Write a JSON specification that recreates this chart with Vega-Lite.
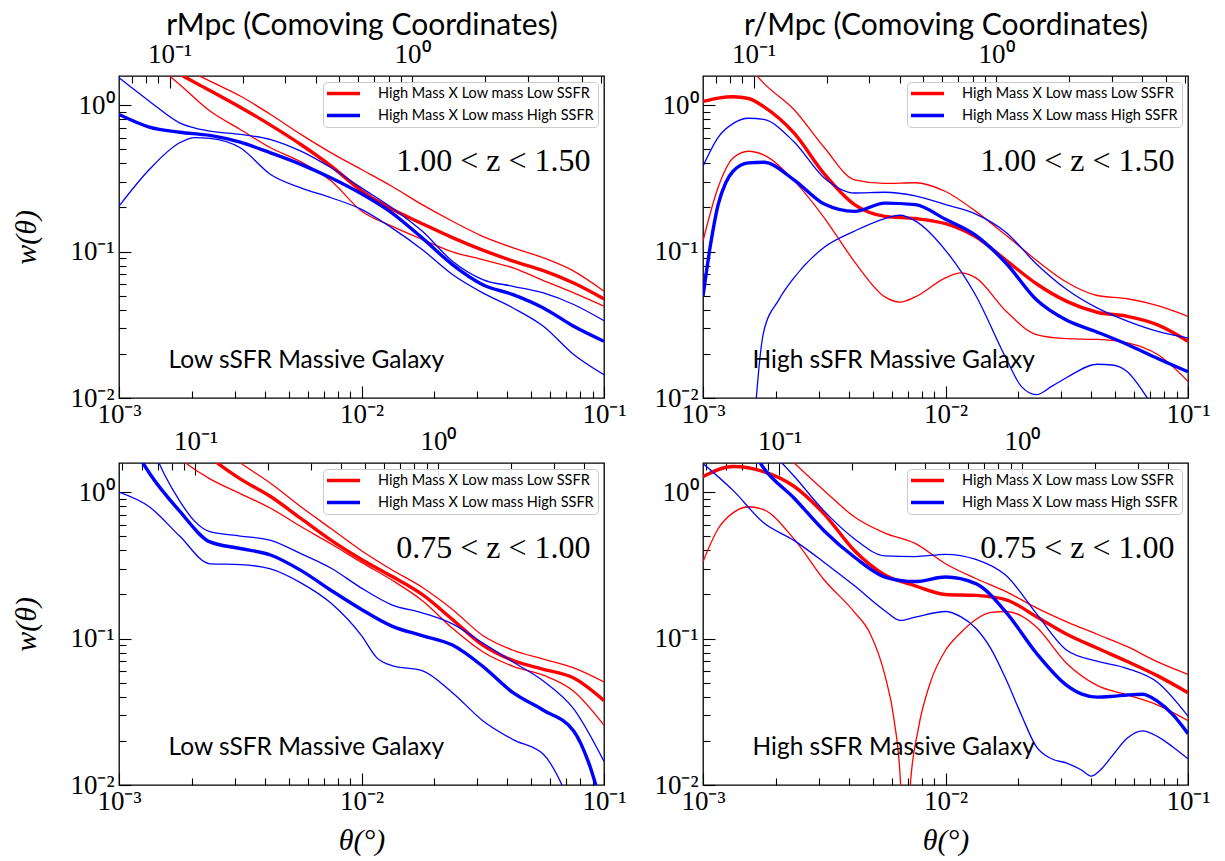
{
  "$schema": "https://vega.github.io/schema/vega-lite/v6.json",
  "background": "white",
  "padding": {"left": 11, "top": 9, "right": 0, "bottom": 0},
  "columns": 2,
  "spacing": {"row": 65, "column": 99},
  "bounds": "flush",
  "resolve": {"scale": {"color": "independent"}, "legend": {"color": "independent"}},
  "config": {
    "view": {"stroke": "#000000", "strokeWidth": 1.3},
    "axis": {"domain": false, "grid": false, "tickColor": "#000000", "tickWidth": 1.1, "labelFont": "Liberation Serif", "labelFontSize": 27, "labelColor": "#000000", "titleColor": "#000000", "titleFontWeight": "normal", "labelFlush": false, "labelOverlap": false, "labelBound": false}
  },
  "datasets": {
    "tl": [
      {"s":"R","b":"m","t":0.0013335,"w":2.188},{"s":"R","b":"m","t":0.0017783,"w":1.629},{"s":"R","b":"m","t":0.0023714,"w":1.259},{"s":"R","b":"m","t":0.0031623,"w":0.968},{"s":"R","b":"m","t":0.004217,"w":0.730},{"s":"R","b":"m","t":0.0056234,"w":0.538},{"s":"R","b":"m","t":0.0074989,"w":0.383},{"s":"R","b":"m","t":0.01,"w":0.260},{"s":"R","b":"m","t":0.013335,"w":0.195},{"s":"R","b":"m","t":0.017783,"w":0.155},{"s":"R","b":"m","t":0.023714,"w":0.1245},{"s":"R","b":"m","t":0.031623,"w":0.1023},{"s":"R","b":"m","t":0.04217,"w":0.0861},{"s":"R","b":"m","t":0.056234,"w":0.0741},{"s":"R","b":"m","t":0.074989,"w":0.0610},{"s":"R","b":"m","t":0.1,"w":0.0475},
      {"s":"R","b":"u","t":0.0013335,"w":2.630},{"s":"R","b":"u","t":0.0017783,"w":1.862},{"s":"R","b":"u","t":0.0023714,"w":1.459},{"s":"R","b":"u","t":0.0031623,"w":1.153},{"s":"R","b":"u","t":0.004217,"w":0.863},{"s":"R","b":"u","t":0.0056234,"w":0.631},{"s":"R","b":"u","t":0.0074989,"w":0.472},{"s":"R","b":"u","t":0.01,"w":0.363},{"s":"R","b":"u","t":0.013335,"w":0.279},{"s":"R","b":"u","t":0.017783,"w":0.209},{"s":"R","b":"u","t":0.023714,"w":0.161},{"s":"R","b":"u","t":0.031623,"w":0.127},{"s":"R","b":"u","t":0.04217,"w":0.106},{"s":"R","b":"u","t":0.056234,"w":0.0906},{"s":"R","b":"u","t":0.074989,"w":0.0735},{"s":"R","b":"u","t":0.1,"w":0.0536},
      {"s":"R","b":"l","t":0.0013335,"w":2.04},{"s":"R","b":"l","t":0.0017783,"w":1.384},{"s":"R","b":"l","t":0.0023714,"w":0.910},{"s":"R","b":"l","t":0.0031623,"w":0.682},{"s":"R","b":"l","t":0.004217,"w":0.511},{"s":"R","b":"l","t":0.0056234,"w":0.410},{"s":"R","b":"l","t":0.0074989,"w":0.303},{"s":"R","b":"l","t":0.01,"w":0.189},{"s":"R","b":"l","t":0.013335,"w":0.149},{"s":"R","b":"l","t":0.017783,"w":0.121},{"s":"R","b":"l","t":0.023714,"w":0.0995},{"s":"R","b":"l","t":0.031623,"w":0.0881},{"s":"R","b":"l","t":0.04217,"w":0.0773},{"s":"R","b":"l","t":0.056234,"w":0.0634},{"s":"R","b":"l","t":0.074989,"w":0.0522},{"s":"R","b":"l","t":0.1,"w":0.0423},
      {"s":"B","b":"m","t":0.001,"w":0.863},{"s":"B","b":"m","t":0.0013335,"w":0.708},{"s":"B","b":"m","t":0.0017783,"w":0.653},{"s":"B","b":"m","t":0.0023714,"w":0.621},{"s":"B","b":"m","t":0.0031623,"w":0.558},{"s":"B","b":"m","t":0.004217,"w":0.472},{"s":"B","b":"m","t":0.0056234,"w":0.394},{"s":"B","b":"m","t":0.0074989,"w":0.318},{"s":"B","b":"m","t":0.01,"w":0.248},{"s":"B","b":"m","t":0.013335,"w":0.184},{"s":"B","b":"m","t":0.017783,"w":0.124},{"s":"B","b":"m","t":0.023714,"w":0.0815},{"s":"B","b":"m","t":0.031623,"w":0.0594},{"s":"B","b":"m","t":0.04217,"w":0.0508},{"s":"B","b":"m","t":0.056234,"w":0.0412},{"s":"B","b":"m","t":0.074989,"w":0.0309},{"s":"B","b":"m","t":0.1,"w":0.0244},
      {"s":"B","b":"u","t":0.001,"w":1.538},{"s":"B","b":"u","t":0.0013335,"w":1.064},{"s":"B","b":"u","t":0.0017783,"w":0.757},{"s":"B","b":"u","t":0.0023714,"w":0.664},{"s":"B","b":"u","t":0.0031623,"w":0.631},{"s":"B","b":"u","t":0.004217,"w":0.582},{"s":"B","b":"u","t":0.0056234,"w":0.485},{"s":"B","b":"u","t":0.0074989,"w":0.373},{"s":"B","b":"u","t":0.01,"w":0.272},{"s":"B","b":"u","t":0.013335,"w":0.199},{"s":"B","b":"u","t":0.017783,"w":0.138},{"s":"B","b":"u","t":0.023714,"w":0.0859},{"s":"B","b":"u","t":0.031623,"w":0.0644},{"s":"B","b":"u","t":0.04217,"w":0.0579},{"s":"B","b":"u","t":0.056234,"w":0.0522},{"s":"B","b":"u","t":0.074989,"w":0.0435},{"s":"B","b":"u","t":0.1,"w":0.0337},
      {"s":"B","b":"l","t":0.001,"w":0.204},{"s":"B","b":"l","t":0.0013335,"w":0.363},{"s":"B","b":"l","t":0.0017783,"w":0.553},{"s":"B","b":"l","t":0.0020535,"w":0.600},{"s":"B","b":"l","t":0.0023714,"w":0.592},{"s":"B","b":"l","t":0.0031623,"w":0.511},{"s":"B","b":"l","t":0.004217,"w":0.336},{"s":"B","b":"l","t":0.0056234,"w":0.272},{"s":"B","b":"l","t":0.0074989,"w":0.233},{"s":"B","b":"l","t":0.01,"w":0.194},{"s":"B","b":"l","t":0.013335,"w":0.145},{"s":"B","b":"l","t":0.017783,"w":0.1033},{"s":"B","b":"l","t":0.023714,"w":0.0697},{"s":"B","b":"l","t":0.031623,"w":0.0522},{"s":"B","b":"l","t":0.04217,"w":0.0412},{"s":"B","b":"l","t":0.056234,"w":0.0309},{"s":"B","b":"l","t":0.074989,"w":0.0198},{"s":"B","b":"l","t":0.1,"w":0.0144}
    ],
    "tr": [
      {"s":"R","b":"m","t":0.001,"w":1.059},{"s":"R","b":"m","t":0.0011548,"w":1.117},{"s":"R","b":"m","t":0.0013335,"w":1.140},{"s":"R","b":"m","t":0.00154,"w":1.109},{"s":"R","b":"m","t":0.0017783,"w":0.977},{"s":"R","b":"m","t":0.0023714,"w":0.646},{"s":"R","b":"m","t":0.0031623,"w":0.339},{"s":"R","b":"m","t":0.004217,"w":0.209},{"s":"R","b":"m","t":0.0056234,"w":0.174},{"s":"R","b":"m","t":0.0074989,"w":0.168},{"s":"R","b":"m","t":0.01,"w":0.155},{"s":"R","b":"m","t":0.013335,"w":0.126},{"s":"R","b":"m","t":0.017783,"w":0.0871},{"s":"R","b":"m","t":0.023714,"w":0.0603},{"s":"R","b":"m","t":0.031623,"w":0.0457},{"s":"R","b":"m","t":0.04217,"w":0.0385},{"s":"R","b":"m","t":0.056234,"w":0.0361},{"s":"R","b":"m","t":0.074989,"w":0.0316},{"s":"R","b":"m","t":0.1,"w":0.0244},
      {"s":"R","b":"u","t":0.0013335,"w":2.512},{"s":"R","b":"u","t":0.0017783,"w":1.413},{"s":"R","b":"u","t":0.0023714,"w":0.933},{"s":"R","b":"u","t":0.0031623,"w":0.513},{"s":"R","b":"u","t":0.004217,"w":0.309},{"s":"R","b":"u","t":0.0056234,"w":0.292},{"s":"R","b":"u","t":0.0074989,"w":0.295},{"s":"R","b":"u","t":0.01,"w":0.257},{"s":"R","b":"u","t":0.013335,"w":0.188},{"s":"R","b":"u","t":0.017783,"w":0.129},{"s":"R","b":"u","t":0.023714,"w":0.0871},{"s":"R","b":"u","t":0.031623,"w":0.0617},{"s":"R","b":"u","t":0.04217,"w":0.0501},{"s":"R","b":"u","t":0.056234,"w":0.0476},{"s":"R","b":"u","t":0.074989,"w":0.0427},{"s":"R","b":"u","t":0.1,"w":0.0361},
      {"s":"R","b":"l","t":0.001,"w":0.118},{"s":"R","b":"l","t":0.0011548,"w":0.275},{"s":"R","b":"l","t":0.0013335,"w":0.437},{"s":"R","b":"l","t":0.00154,"w":0.484},{"s":"R","b":"l","t":0.0017783,"w":0.457},{"s":"R","b":"l","t":0.0023714,"w":0.305},{"s":"R","b":"l","t":0.0031623,"w":0.170},{"s":"R","b":"l","t":0.004217,"w":0.0851},{"s":"R","b":"l","t":0.0056234,"w":0.0490},{"s":"R","b":"l","t":0.0064938,"w":0.0452},{"s":"R","b":"l","t":0.0074989,"w":0.0490},{"s":"R","b":"l","t":0.01,"w":0.0661},{"s":"R","b":"l","t":0.011548,"w":0.0714},{"s":"R","b":"l","t":0.013335,"w":0.0661},{"s":"R","b":"l","t":0.017783,"w":0.0391},{"s":"R","b":"l","t":0.023714,"w":0.0271},{"s":"R","b":"l","t":0.031623,"w":0.0254},{"s":"R","b":"l","t":0.04217,"w":0.0251},{"s":"R","b":"l","t":0.056234,"w":0.0238},{"s":"R","b":"l","t":0.074989,"w":0.0198},{"s":"R","b":"l","t":0.1,"w":0.0130},
      {"s":"B","b":"m","t":0.001,"w":0.0495},{"s":"B","b":"m","t":0.0010746,"w":0.112},{"s":"B","b":"m","t":0.0011548,"w":0.209},{"s":"B","b":"m","t":0.001241,"w":0.295},{"s":"B","b":"m","t":0.0013335,"w":0.355},{"s":"B","b":"m","t":0.00154,"w":0.403},{"s":"B","b":"m","t":0.0017783,"w":0.407},{"s":"B","b":"m","t":0.0023714,"w":0.309},{"s":"B","b":"m","t":0.0031623,"w":0.211},{"s":"B","b":"m","t":0.004217,"w":0.188},{"s":"B","b":"m","t":0.0056234,"w":0.214},{"s":"B","b":"m","t":0.0074989,"w":0.209},{"s":"B","b":"m","t":0.01,"w":0.166},{"s":"B","b":"m","t":0.013335,"w":0.129},{"s":"B","b":"m","t":0.017783,"w":0.0832},{"s":"B","b":"m","t":0.023714,"w":0.0468},{"s":"B","b":"m","t":0.031623,"w":0.0339},{"s":"B","b":"m","t":0.04217,"w":0.0282},{"s":"B","b":"m","t":0.056234,"w":0.0232},{"s":"B","b":"m","t":0.074989,"w":0.0186},{"s":"B","b":"m","t":0.1,"w":0.0151},
      {"s":"B","b":"u","t":0.001,"w":0.383},{"s":"B","b":"u","t":0.0011548,"w":0.603},{"s":"B","b":"u","t":0.0013335,"w":0.750},{"s":"B","b":"u","t":0.00154,"w":0.813},{"s":"B","b":"u","t":0.0017783,"w":0.798},{"s":"B","b":"u","t":0.0023714,"w":0.562},{"s":"B","b":"u","t":0.0031623,"w":0.318},{"s":"B","b":"u","t":0.004217,"w":0.251},{"s":"B","b":"u","t":0.0056234,"w":0.254},{"s":"B","b":"u","t":0.0074989,"w":0.240},{"s":"B","b":"u","t":0.01,"w":0.209},{"s":"B","b":"u","t":0.013335,"w":0.180},{"s":"B","b":"u","t":0.017783,"w":0.135},{"s":"B","b":"u","t":0.023714,"w":0.0822},{"s":"B","b":"u","t":0.031623,"w":0.0550},{"s":"B","b":"u","t":0.04217,"w":0.0412},{"s":"B","b":"u","t":0.056234,"w":0.0335},{"s":"B","b":"u","t":0.074989,"w":0.0285},{"s":"B","b":"u","t":0.1,"w":0.0257},
      {"s":"B","b":"l","t":0.0015849,"w":0.00316},{"s":"B","b":"l","t":0.0016596,"w":0.01},{"s":"B","b":"l","t":0.0017783,"w":0.0282},{"s":"B","b":"l","t":0.0020535,"w":0.0468},{"s":"B","b":"l","t":0.0023714,"w":0.0661},{"s":"B","b":"l","t":0.0031623,"w":0.107},{"s":"B","b":"l","t":0.004217,"w":0.138},{"s":"B","b":"l","t":0.0056234,"w":0.168},{"s":"B","b":"l","t":0.0064938,"w":0.177},{"s":"B","b":"l","t":0.0074989,"w":0.162},{"s":"B","b":"l","t":0.01,"w":0.102},{"s":"B","b":"l","t":0.013335,"w":0.0501},{"s":"B","b":"l","t":0.017783,"w":0.0186},{"s":"B","b":"l","t":0.020535,"w":0.0120},{"s":"B","b":"l","t":0.023714,"w":0.01054},{"s":"B","b":"l","t":0.027384,"w":0.0120},{"s":"B","b":"l","t":0.031623,"w":0.0138},{"s":"B","b":"l","t":0.04217,"w":0.0170},{"s":"B","b":"l","t":0.048697,"w":0.0168},{"s":"B","b":"l","t":0.056234,"w":0.0151},{"s":"B","b":"l","t":0.064938,"w":0.0112},{"s":"B","b":"l","t":0.074989,"w":0.00759},{"s":"B","b":"l","t":0.086596,"w":0.00447}
    ],
    "bl": [
      {"s":"R","b":"m","t":0.0017783,"w":2.818},{"s":"R","b":"m","t":0.0023714,"w":1.738},{"s":"R","b":"m","t":0.0031623,"w":1.230},{"s":"R","b":"m","t":0.004217,"w":0.933},{"s":"R","b":"m","t":0.0056234,"w":0.661},{"s":"R","b":"m","t":0.0074989,"w":0.468},{"s":"R","b":"m","t":0.01,"w":0.347},{"s":"R","b":"m","t":0.013335,"w":0.266},{"s":"R","b":"m","t":0.017783,"w":0.200},{"s":"R","b":"m","t":0.023714,"w":0.135},{"s":"R","b":"m","t":0.031623,"w":0.0902},{"s":"R","b":"m","t":0.04217,"w":0.0708},{"s":"R","b":"m","t":0.056234,"w":0.0617},{"s":"R","b":"m","t":0.074989,"w":0.0537},{"s":"R","b":"m","t":0.1,"w":0.0377},
      {"s":"R","b":"u","t":0.0023714,"w":2.291},{"s":"R","b":"u","t":0.0031623,"w":1.585},{"s":"R","b":"u","t":0.004217,"w":1.148},{"s":"R","b":"u","t":0.0056234,"w":0.794},{"s":"R","b":"u","t":0.0074989,"w":0.562},{"s":"R","b":"u","t":0.01,"w":0.398},{"s":"R","b":"u","t":0.013335,"w":0.295},{"s":"R","b":"u","t":0.017783,"w":0.224},{"s":"R","b":"u","t":0.023714,"w":0.158},{"s":"R","b":"u","t":0.031623,"w":0.105},{"s":"R","b":"u","t":0.04217,"w":0.0832},{"s":"R","b":"u","t":0.056234,"w":0.0724},{"s":"R","b":"u","t":0.074989,"w":0.0631},{"s":"R","b":"u","t":0.1,"w":0.0506},
      {"s":"R","b":"l","t":0.0013335,"w":2.630},{"s":"R","b":"l","t":0.0017783,"w":1.698},{"s":"R","b":"l","t":0.0023714,"w":1.230},{"s":"R","b":"l","t":0.0031623,"w":0.977},{"s":"R","b":"l","t":0.004217,"w":0.776},{"s":"R","b":"l","t":0.0056234,"w":0.582},{"s":"R","b":"l","t":0.0074989,"w":0.442},{"s":"R","b":"l","t":0.01,"w":0.331},{"s":"R","b":"l","t":0.013335,"w":0.251},{"s":"R","b":"l","t":0.017783,"w":0.182},{"s":"R","b":"l","t":0.023714,"w":0.1175},{"s":"R","b":"l","t":0.031623,"w":0.0813},{"s":"R","b":"l","t":0.04217,"w":0.0646},{"s":"R","b":"l","t":0.056234,"w":0.0562},{"s":"R","b":"l","t":0.074989,"w":0.0437},{"s":"R","b":"l","t":0.1,"w":0.0256},
      {"s":"B","b":"m","t":0.0011548,"w":1.995},{"s":"B","b":"m","t":0.0013335,"w":1.349},{"s":"B","b":"m","t":0.0017783,"w":0.741},{"s":"B","b":"m","t":0.0023714,"w":0.457},{"s":"B","b":"m","t":0.0031623,"w":0.412},{"s":"B","b":"m","t":0.004217,"w":0.372},{"s":"B","b":"m","t":0.0056234,"w":0.292},{"s":"B","b":"m","t":0.0074989,"w":0.213},{"s":"B","b":"m","t":0.01,"w":0.158},{"s":"B","b":"m","t":0.013335,"w":0.1216},{"s":"B","b":"m","t":0.017783,"w":0.1047},{"s":"B","b":"m","t":0.023714,"w":0.0902},{"s":"B","b":"m","t":0.031623,"w":0.0646},{"s":"B","b":"m","t":0.04217,"w":0.0427},{"s":"B","b":"m","t":0.056234,"w":0.0324},{"s":"B","b":"m","t":0.074989,"w":0.0234},{"s":"B","b":"m","t":0.086596,"w":0.0141},{"s":"B","b":"m","t":0.1,"w":0.00631},
      {"s":"B","b":"u","t":0.0013335,"w":2.239},{"s":"B","b":"u","t":0.00154,"w":1.318},{"s":"B","b":"u","t":0.0017783,"w":0.871},{"s":"B","b":"u","t":0.0020535,"w":0.631},{"s":"B","b":"u","t":0.0023714,"w":0.537},{"s":"B","b":"u","t":0.0031623,"w":0.501},{"s":"B","b":"u","t":0.004217,"w":0.468},{"s":"B","b":"u","t":0.0056234,"w":0.380},{"s":"B","b":"u","t":0.0074989,"w":0.302},{"s":"B","b":"u","t":0.01,"w":0.221},{"s":"B","b":"u","t":0.013335,"w":0.170},{"s":"B","b":"u","t":0.017783,"w":0.150},{"s":"B","b":"u","t":0.023714,"w":0.126},{"s":"B","b":"u","t":0.031623,"w":0.0933},{"s":"B","b":"u","t":0.04217,"w":0.0692},{"s":"B","b":"u","t":0.056234,"w":0.0513},{"s":"B","b":"u","t":0.074989,"w":0.0331},{"s":"B","b":"u","t":0.1,"w":0.0145},
      {"s":"B","b":"l","t":0.001,"w":1.0},{"s":"B","b":"l","t":0.0013335,"w":0.794},{"s":"B","b":"l","t":0.0017783,"w":0.501},{"s":"B","b":"l","t":0.0023714,"w":0.324},{"s":"B","b":"l","t":0.0031623,"w":0.320},{"s":"B","b":"l","t":0.004217,"w":0.299},{"s":"B","b":"l","t":0.0056234,"w":0.240},{"s":"B","b":"l","t":0.0074989,"w":0.174},{"s":"B","b":"l","t":0.01,"w":0.1047},{"s":"B","b":"l","t":0.011548,"w":0.0741},{"s":"B","b":"l","t":0.013335,"w":0.0653},{"s":"B","b":"l","t":0.017783,"w":0.0603},{"s":"B","b":"l","t":0.023714,"w":0.0427},{"s":"B","b":"l","t":0.031623,"w":0.0275},{"s":"B","b":"l","t":0.04217,"w":0.0204},{"s":"B","b":"l","t":0.056234,"w":0.0162},{"s":"B","b":"l","t":0.064938,"w":0.0112},{"s":"B","b":"l","t":0.074989,"w":0.00631},{"s":"B","b":"l","t":0.086596,"w":0.00316}
    ],
    "br": [
      {"s":"R","b":"m","t":0.001,"w":1.274},{"s":"R","b":"m","t":0.0013335,"w":1.496},{"s":"R","b":"m","t":0.0017783,"w":1.380},{"s":"R","b":"m","t":0.0023714,"w":1.096},{"s":"R","b":"m","t":0.0031623,"w":0.708},{"s":"R","b":"m","t":0.004217,"w":0.398},{"s":"R","b":"m","t":0.0056234,"w":0.272},{"s":"R","b":"m","t":0.0074989,"w":0.229},{"s":"R","b":"m","t":0.01,"w":0.200},{"s":"R","b":"m","t":0.013335,"w":0.197},{"s":"R","b":"m","t":0.017783,"w":0.184},{"s":"R","b":"m","t":0.023714,"w":0.141},{"s":"R","b":"m","t":0.031623,"w":0.107},{"s":"R","b":"m","t":0.04217,"w":0.0861},{"s":"R","b":"m","t":0.056234,"w":0.0697},{"s":"R","b":"m","t":0.074989,"w":0.0556},{"s":"R","b":"m","t":0.1,"w":0.0427},
      {"s":"R","b":"u","t":0.0017783,"w":2.512},{"s":"R","b":"u","t":0.0023714,"w":1.585},{"s":"R","b":"u","t":0.0031623,"w":1.023},{"s":"R","b":"u","t":0.004217,"w":0.676},{"s":"R","b":"u","t":0.0056234,"w":0.525},{"s":"R","b":"u","t":0.0074989,"w":0.447},{"s":"R","b":"u","t":0.01,"w":0.324},{"s":"R","b":"u","t":0.013335,"w":0.257},{"s":"R","b":"u","t":0.017783,"w":0.209},{"s":"R","b":"u","t":0.023714,"w":0.162},{"s":"R","b":"u","t":0.031623,"w":0.130},{"s":"R","b":"u","t":0.04217,"w":0.107},{"s":"R","b":"u","t":0.056234,"w":0.0881},{"s":"R","b":"u","t":0.074989,"w":0.0692},{"s":"R","b":"u","t":0.1,"w":0.0569},
      {"s":"R","b":"l","t":0.001,"w":0.335},{"s":"R","b":"l","t":0.0011548,"w":0.562},{"s":"R","b":"l","t":0.0013335,"w":0.724},{"s":"R","b":"l","t":0.00154,"w":0.794},{"s":"R","b":"l","t":0.0017783,"w":0.759},{"s":"R","b":"l","t":0.0023714,"w":0.479},{"s":"R","b":"l","t":0.0031623,"w":0.251},{"s":"R","b":"l","t":0.004217,"w":0.151},{"s":"R","b":"l","t":0.0048697,"w":0.1096},{"s":"R","b":"l","t":0.0056234,"w":0.0562},{"s":"R","b":"l","t":0.0061306,"w":0.0282},{"s":"R","b":"l","t":0.0065313,"w":0.01},{"s":"R","b":"l","t":0.0068391,"w":0.000631},{"s":"R","b":"l","t":0.0071614,"w":0.01},{"s":"R","b":"l","t":0.0077179,"w":0.0240},{"s":"R","b":"l","t":0.0086596,"w":0.0501},{"s":"R","b":"l","t":0.01,"w":0.0832},{"s":"R","b":"l","t":0.011548,"w":0.1096},{"s":"R","b":"l","t":0.013335,"w":0.135},{"s":"R","b":"l","t":0.0154,"w":0.151},{"s":"R","b":"l","t":0.017783,"w":0.153},{"s":"R","b":"l","t":0.020535,"w":0.143},{"s":"R","b":"l","t":0.023714,"w":0.120},{"s":"R","b":"l","t":0.031623,"w":0.0676},{"s":"R","b":"l","t":0.04217,"w":0.0479},{"s":"R","b":"l","t":0.056234,"w":0.0412},{"s":"R","b":"l","t":0.074989,"w":0.0351},{"s":"R","b":"l","t":0.1,"w":0.0275},
      {"s":"B","b":"m","t":0.00154,"w":2.138},{"s":"B","b":"m","t":0.0017783,"w":1.462},{"s":"B","b":"m","t":0.0023714,"w":0.912},{"s":"B","b":"m","t":0.0031623,"w":0.543},{"s":"B","b":"m","t":0.004217,"w":0.359},{"s":"B","b":"m","t":0.0056234,"w":0.263},{"s":"B","b":"m","t":0.0074989,"w":0.245},{"s":"B","b":"m","t":0.01,"w":0.263},{"s":"B","b":"m","t":0.013335,"w":0.237},{"s":"B","b":"m","t":0.017783,"w":0.151},{"s":"B","b":"m","t":0.023714,"w":0.0794},{"s":"B","b":"m","t":0.031623,"w":0.0479},{"s":"B","b":"m","t":0.036517,"w":0.0417},{"s":"B","b":"m","t":0.04217,"w":0.0398},{"s":"B","b":"m","t":0.048697,"w":0.0403},{"s":"B","b":"m","t":0.056234,"w":0.0412},{"s":"B","b":"m","t":0.064938,"w":0.0417},{"s":"B","b":"m","t":0.074989,"w":0.0372},{"s":"B","b":"m","t":0.086596,"w":0.0302},{"s":"B","b":"m","t":0.1,"w":0.0224},
      {"s":"B","b":"u","t":0.0017783,"w":2.138},{"s":"B","b":"u","t":0.0023714,"w":1.288},{"s":"B","b":"u","t":0.0031623,"w":0.741},{"s":"B","b":"u","t":0.004217,"w":0.479},{"s":"B","b":"u","t":0.0056234,"w":0.367},{"s":"B","b":"u","t":0.0074989,"w":0.363},{"s":"B","b":"u","t":0.01,"w":0.376},{"s":"B","b":"u","t":0.013335,"w":0.347},{"s":"B","b":"u","t":0.017783,"w":0.269},{"s":"B","b":"u","t":0.023714,"w":0.148},{"s":"B","b":"u","t":0.031623,"w":0.0832},{"s":"B","b":"u","t":0.04217,"w":0.0700},{"s":"B","b":"u","t":0.056234,"w":0.0624},{"s":"B","b":"u","t":0.074989,"w":0.0501},{"s":"B","b":"u","t":0.1,"w":0.0295},
      {"s":"B","b":"l","t":0.001,"w":1.567},{"s":"B","b":"l","t":0.0013335,"w":1.023},{"s":"B","b":"l","t":0.0017783,"w":0.617},{"s":"B","b":"l","t":0.0023714,"w":0.468},{"s":"B","b":"l","t":0.0031623,"w":0.331},{"s":"B","b":"l","t":0.004217,"w":0.229},{"s":"B","b":"l","t":0.0056234,"w":0.155},{"s":"B","b":"l","t":0.0064938,"w":0.133},{"s":"B","b":"l","t":0.0074989,"w":0.140},{"s":"B","b":"l","t":0.01,"w":0.153},{"s":"B","b":"l","t":0.011548,"w":0.141},{"s":"B","b":"l","t":0.013335,"w":0.1175},{"s":"B","b":"l","t":0.0154,"w":0.0851},{"s":"B","b":"l","t":0.017783,"w":0.0525},{"s":"B","b":"l","t":0.020535,"w":0.0302},{"s":"B","b":"l","t":0.023714,"w":0.0182},{"s":"B","b":"l","t":0.027384,"w":0.0151},{"s":"B","b":"l","t":0.031623,"w":0.0141},{"s":"B","b":"l","t":0.036517,"w":0.0126},{"s":"B","b":"l","t":0.039811,"w":0.0115},{"s":"B","b":"l","t":0.043401,"w":0.0126},{"s":"B","b":"l","t":0.048697,"w":0.0158},{"s":"B","b":"l","t":0.056234,"w":0.0209},{"s":"B","b":"l","t":0.064938,"w":0.0234},{"s":"B","b":"l","t":0.074989,"w":0.0214},{"s":"B","b":"l","t":0.086596,"w":0.0182},{"s":"B","b":"l","t":0.1,"w":0.0151}
    ]
  },
  "concat": [
    {
      "width": 485, "height": 322,
      "resolve": {"scale": {"x": "independent"}},
      "layer": [
        {
          "data": {"name": "tl"},
          "mark": {"type": "line", "interpolate": "monotone", "clip": true},
          "encoding": {
            "x": {"field": "t", "type": "quantitative", "scale": {"type": "log", "domain": [0.001, 0.1], "nice": false},
              "axis": {"orient": "bottom", "title": null, "values": [0.001,0.002,0.003,0.004,0.005,0.006,0.007,0.008,0.009,0.01,0.02,0.03,0.04,0.05,0.06,0.07,0.08,0.09,0.1], "labelExpr": "datum.value == 0.001 ? '10⁻³' : datum.value == 0.01 ? '10⁻²' : datum.value == 0.1 ? '10⁻¹' : ''", "tickSize": {"condition": {"test": "datum.value == 0.001 || datum.value == 0.01 || datum.value == 0.1", "value": -12}, "value": -7}, "labelPadding": 15}},
            "y": {"field": "w", "type": "quantitative", "scale": {"type": "log", "domain": [0.01, 1.58], "nice": false},
              "axis": {"orient": "left", "values": [0.01,0.02,0.03,0.04,0.05,0.06,0.07,0.08,0.09,0.1,0.2,0.3,0.4,0.5,0.6,0.7,0.8,0.9,1], "labelExpr": "datum.value == 0.01 ? '10⁻²' : datum.value == 0.1 ? '10⁻¹' : datum.value == 1 ? '10⁰' : ''", "tickSize": {"condition": {"test": "datum.value == 0.01 || datum.value == 0.1 || datum.value == 1", "value": -12}, "value": -7}, "labelPadding": 17, "title": "w(θ)", "titleFont": "Liberation Serif", "titleFontStyle": "italic", "titleFontSize": 30, "titlePadding": 28}},
            "color": {"field": "s", "type": "nominal", "scale": {"domain": ["R", "B"], "range": ["#ff0000", "#0000ff"]},
              "legend": {"orient": "top-right", "title": null, "labelExpr": "datum.value == 'R' ? 'High Mass X Low mass Low SSFR' : 'High Mass X Low mass High SSFR'", "labelLimit": 400, "offset": 6, "padding": 4, "strokeColor": "#cccccc", "fillColor": "rgba(255,255,255,0.85)", "cornerRadius": 4, "labelFont": "Lato", "labelFontSize": 14.5, "labelColor": "#000000", "symbolType": "M-3,0H3", "symbolSize": 121, "symbolStrokeWidth": 3.5, "symbolOffset": 9, "labelOffset": 27, "rowPadding": 6}},
            "detail": {"field": "b", "type": "nominal"},
            "strokeWidth": {"condition": {"test": "datum.b == 'm'", "value": 3.4}, "value": 1.3}
          }
        },
        {
          "data": {"values": [{"t": 0.088, "w": 0.415, "label": "1.00 < z < 1.50"}]},
          "mark": {"type": "text", "align": "right", "baseline": "middle", "font": "Liberation Serif", "fontSize": 32, "color": "#000000"},
          "encoding": {
            "x": {"field": "t", "type": "quantitative", "scale": {"type": "log", "domain": [0.001, 0.1], "nice": false}, "axis": null},
            "y": {"field": "w", "type": "quantitative", "scale": {"type": "log", "domain": [0.01, 1.58], "nice": false}},
            "text": {"field": "label"}
          }
        },
        {
          "data": {"values": [{"t": 0.0016, "w": 0.018, "label": "Low sSFR Massive Galaxy"}]},
          "mark": {"type": "text", "align": "left", "baseline": "middle", "font": "Lato", "fontSize": 24.5, "color": "#000000"},
          "encoding": {
            "x": {"field": "t", "type": "quantitative", "scale": {"type": "log", "domain": [0.001, 0.1], "nice": false}, "axis": null},
            "y": {"field": "w", "type": "quantitative", "scale": {"type": "log", "domain": [0.01, 1.58], "nice": false}},
            "text": {"field": "label"}
          }
        },
        {
          "data": {"values": [{"r": 1}]},
          "mark": {"type": "point", "opacity": 0},
          "encoding": {
            "x": {"field": "r", "type": "quantitative", "scale": {"type": "log", "domain": [0.0619, 6.19], "nice": false},
              "axis": {"orient": "top", "values": [0.07,0.08,0.09,0.1,0.2,0.3,0.4,0.5,0.6,0.7,0.8,0.9,1,2,3,4,5,6], "labelExpr": "datum.value == 0.1 ? '10⁻¹' : datum.value == 1 ? '10⁰' : ''", "tickSize": {"condition": {"test": "datum.value == 0.1 || datum.value == 1", "value": -12}, "value": -7}, "labelPadding": 20, "title": "rMpc (Comoving Coordinates)", "titleFont": "Lato", "titleFontSize": 30, "titlePadding": -5}}
          }
        }
      ]
    },
    {
      "width": 485, "height": 322,
      "resolve": {"scale": {"x": "independent"}},
      "layer": [
        {
          "data": {"name": "tr"},
          "mark": {"type": "line", "interpolate": "monotone", "clip": true},
          "encoding": {
            "x": {"field": "t", "type": "quantitative", "scale": {"type": "log", "domain": [0.001, 0.1], "nice": false},
              "axis": {"orient": "bottom", "title": null, "values": [0.001,0.002,0.003,0.004,0.005,0.006,0.007,0.008,0.009,0.01,0.02,0.03,0.04,0.05,0.06,0.07,0.08,0.09,0.1], "labelExpr": "datum.value == 0.001 ? '10⁻³' : datum.value == 0.01 ? '10⁻²' : datum.value == 0.1 ? '10⁻¹' : ''", "tickSize": {"condition": {"test": "datum.value == 0.001 || datum.value == 0.01 || datum.value == 0.1", "value": -12}, "value": -7}, "labelPadding": 15}},
            "y": {"field": "w", "type": "quantitative", "scale": {"type": "log", "domain": [0.01, 1.58], "nice": false},
              "axis": {"orient": "left", "values": [0.01,0.02,0.03,0.04,0.05,0.06,0.07,0.08,0.09,0.1,0.2,0.3,0.4,0.5,0.6,0.7,0.8,0.9,1], "labelExpr": "datum.value == 0.01 ? '10⁻²' : datum.value == 0.1 ? '10⁻¹' : datum.value == 1 ? '10⁰' : ''", "tickSize": {"condition": {"test": "datum.value == 0.01 || datum.value == 0.1 || datum.value == 1", "value": -12}, "value": -7}, "labelPadding": 17, "title": null}},
            "color": {"field": "s", "type": "nominal", "scale": {"domain": ["R", "B"], "range": ["#ff0000", "#0000ff"]},
              "legend": {"orient": "top-right", "title": null, "labelExpr": "datum.value == 'R' ? 'High Mass X Low mass Low SSFR' : 'High Mass X Low mass High SSFR'", "labelLimit": 400, "offset": 6, "padding": 4, "strokeColor": "#cccccc", "fillColor": "rgba(255,255,255,0.85)", "cornerRadius": 4, "labelFont": "Lato", "labelFontSize": 14.5, "labelColor": "#000000", "symbolType": "M-3,0H3", "symbolSize": 121, "symbolStrokeWidth": 3.5, "symbolOffset": 9, "labelOffset": 27, "rowPadding": 6}},
            "detail": {"field": "b", "type": "nominal"},
            "strokeWidth": {"condition": {"test": "datum.b == 'm'", "value": 3.4}, "value": 1.3}
          }
        },
        {
          "data": {"values": [{"t": 0.088, "w": 0.415, "label": "1.00 < z < 1.50"}]},
          "mark": {"type": "text", "align": "right", "baseline": "middle", "font": "Liberation Serif", "fontSize": 32, "color": "#000000"},
          "encoding": {
            "x": {"field": "t", "type": "quantitative", "scale": {"type": "log", "domain": [0.001, 0.1], "nice": false}, "axis": null},
            "y": {"field": "w", "type": "quantitative", "scale": {"type": "log", "domain": [0.01, 1.58], "nice": false}},
            "text": {"field": "label"}
          }
        },
        {
          "data": {"values": [{"t": 0.0016, "w": 0.018, "label": "High sSFR Massive Galaxy"}]},
          "mark": {"type": "text", "align": "left", "baseline": "middle", "font": "Lato", "fontSize": 24.5, "color": "#000000"},
          "encoding": {
            "x": {"field": "t", "type": "quantitative", "scale": {"type": "log", "domain": [0.001, 0.1], "nice": false}, "axis": null},
            "y": {"field": "w", "type": "quantitative", "scale": {"type": "log", "domain": [0.01, 1.58], "nice": false}},
            "text": {"field": "label"}
          }
        },
        {
          "data": {"values": [{"r": 1}]},
          "mark": {"type": "point", "opacity": 0},
          "encoding": {
            "x": {"field": "r", "type": "quantitative", "scale": {"type": "log", "domain": [0.0619, 6.19], "nice": false},
              "axis": {"orient": "top", "values": [0.07,0.08,0.09,0.1,0.2,0.3,0.4,0.5,0.6,0.7,0.8,0.9,1,2,3,4,5,6], "labelExpr": "datum.value == 0.1 ? '10⁻¹' : datum.value == 1 ? '10⁰' : ''", "tickSize": {"condition": {"test": "datum.value == 0.1 || datum.value == 1", "value": -12}, "value": -7}, "labelPadding": 20, "title": "r/Mpc (Comoving Coordinates)", "titleFont": "Lato", "titleFontSize": 30, "titlePadding": -5}}
          }
        }
      ]
    },
    {
      "width": 485, "height": 322,
      "resolve": {"scale": {"x": "independent"}},
      "layer": [
        {
          "data": {"name": "bl"},
          "mark": {"type": "line", "interpolate": "monotone", "clip": true},
          "encoding": {
            "x": {"field": "t", "type": "quantitative", "scale": {"type": "log", "domain": [0.001, 0.1], "nice": false},
              "axis": {"orient": "bottom", "title": "θ(°)", "titleFont": "Liberation Serif", "titleFontStyle": "italic", "titleFontSize": 30, "titlePadding": 6, "values": [0.001,0.002,0.003,0.004,0.005,0.006,0.007,0.008,0.009,0.01,0.02,0.03,0.04,0.05,0.06,0.07,0.08,0.09,0.1], "labelExpr": "datum.value == 0.001 ? '10⁻³' : datum.value == 0.01 ? '10⁻²' : datum.value == 0.1 ? '10⁻¹' : ''", "tickSize": {"condition": {"test": "datum.value == 0.001 || datum.value == 0.01 || datum.value == 0.1", "value": -12}, "value": -7}, "labelPadding": 15}},
            "y": {"field": "w", "type": "quantitative", "scale": {"type": "log", "domain": [0.01, 1.58], "nice": false},
              "axis": {"orient": "left", "values": [0.01,0.02,0.03,0.04,0.05,0.06,0.07,0.08,0.09,0.1,0.2,0.3,0.4,0.5,0.6,0.7,0.8,0.9,1], "labelExpr": "datum.value == 0.01 ? '10⁻²' : datum.value == 0.1 ? '10⁻¹' : datum.value == 1 ? '10⁰' : ''", "tickSize": {"condition": {"test": "datum.value == 0.01 || datum.value == 0.1 || datum.value == 1", "value": -12}, "value": -7}, "labelPadding": 17, "title": "w(θ)", "titleFont": "Liberation Serif", "titleFontStyle": "italic", "titleFontSize": 30, "titlePadding": 28}},
            "color": {"field": "s", "type": "nominal", "scale": {"domain": ["R", "B"], "range": ["#ff0000", "#0000ff"]},
              "legend": {"orient": "top-right", "title": null, "labelExpr": "datum.value == 'R' ? 'High Mass X Low mass Low SSFR' : 'High Mass X Low mass High SSFR'", "labelLimit": 400, "offset": 6, "padding": 4, "strokeColor": "#cccccc", "fillColor": "rgba(255,255,255,0.85)", "cornerRadius": 4, "labelFont": "Lato", "labelFontSize": 14.5, "labelColor": "#000000", "symbolType": "M-3,0H3", "symbolSize": 121, "symbolStrokeWidth": 3.5, "symbolOffset": 9, "labelOffset": 27, "rowPadding": 6}},
            "detail": {"field": "b", "type": "nominal"},
            "strokeWidth": {"condition": {"test": "datum.b == 'm'", "value": 3.4}, "value": 1.3}
          }
        },
        {
          "data": {"values": [{"t": 0.088, "w": 0.415, "label": "0.75 < z < 1.00"}]},
          "mark": {"type": "text", "align": "right", "baseline": "middle", "font": "Liberation Serif", "fontSize": 32, "color": "#000000"},
          "encoding": {
            "x": {"field": "t", "type": "quantitative", "scale": {"type": "log", "domain": [0.001, 0.1], "nice": false}, "axis": null},
            "y": {"field": "w", "type": "quantitative", "scale": {"type": "log", "domain": [0.01, 1.58], "nice": false}},
            "text": {"field": "label"}
          }
        },
        {
          "data": {"values": [{"t": 0.0016, "w": 0.018, "label": "Low sSFR Massive Galaxy"}]},
          "mark": {"type": "text", "align": "left", "baseline": "middle", "font": "Lato", "fontSize": 24.5, "color": "#000000"},
          "encoding": {
            "x": {"field": "t", "type": "quantitative", "scale": {"type": "log", "domain": [0.001, 0.1], "nice": false}, "axis": null},
            "y": {"field": "w", "type": "quantitative", "scale": {"type": "log", "domain": [0.01, 1.58], "nice": false}},
            "text": {"field": "label"}
          }
        },
        {
          "data": {"values": [{"r": 1}]},
          "mark": {"type": "point", "opacity": 0},
          "encoding": {
            "x": {"field": "r", "type": "quantitative", "scale": {"type": "log", "domain": [0.0484, 4.84], "nice": false},
              "axis": {"orient": "top", "values": [0.05,0.06,0.07,0.08,0.09,0.1,0.2,0.3,0.4,0.5,0.6,0.7,0.8,0.9,1,2,3,4], "labelExpr": "datum.value == 0.1 ? '10⁻¹' : datum.value == 1 ? '10⁰' : ''", "tickSize": {"condition": {"test": "datum.value == 0.1 || datum.value == 1", "value": -12}, "value": -7}, "labelPadding": 20, "title": null}}
          }
        }
      ]
    },
    {
      "width": 485, "height": 322,
      "resolve": {"scale": {"x": "independent"}},
      "layer": [
        {
          "data": {"name": "br"},
          "mark": {"type": "line", "interpolate": "monotone", "clip": true},
          "encoding": {
            "x": {"field": "t", "type": "quantitative", "scale": {"type": "log", "domain": [0.001, 0.1], "nice": false},
              "axis": {"orient": "bottom", "title": "θ(°)", "titleFont": "Liberation Serif", "titleFontStyle": "italic", "titleFontSize": 30, "titlePadding": 6, "values": [0.001,0.002,0.003,0.004,0.005,0.006,0.007,0.008,0.009,0.01,0.02,0.03,0.04,0.05,0.06,0.07,0.08,0.09,0.1], "labelExpr": "datum.value == 0.001 ? '10⁻³' : datum.value == 0.01 ? '10⁻²' : datum.value == 0.1 ? '10⁻¹' : ''", "tickSize": {"condition": {"test": "datum.value == 0.001 || datum.value == 0.01 || datum.value == 0.1", "value": -12}, "value": -7}, "labelPadding": 15}},
            "y": {"field": "w", "type": "quantitative", "scale": {"type": "log", "domain": [0.01, 1.58], "nice": false},
              "axis": {"orient": "left", "values": [0.01,0.02,0.03,0.04,0.05,0.06,0.07,0.08,0.09,0.1,0.2,0.3,0.4,0.5,0.6,0.7,0.8,0.9,1], "labelExpr": "datum.value == 0.01 ? '10⁻²' : datum.value == 0.1 ? '10⁻¹' : datum.value == 1 ? '10⁰' : ''", "tickSize": {"condition": {"test": "datum.value == 0.01 || datum.value == 0.1 || datum.value == 1", "value": -12}, "value": -7}, "labelPadding": 17, "title": null}},
            "color": {"field": "s", "type": "nominal", "scale": {"domain": ["R", "B"], "range": ["#ff0000", "#0000ff"]},
              "legend": {"orient": "top-right", "title": null, "labelExpr": "datum.value == 'R' ? 'High Mass X Low mass Low SSFR' : 'High Mass X Low mass High SSFR'", "labelLimit": 400, "offset": 6, "padding": 4, "strokeColor": "#cccccc", "fillColor": "rgba(255,255,255,0.85)", "cornerRadius": 4, "labelFont": "Lato", "labelFontSize": 14.5, "labelColor": "#000000", "symbolType": "M-3,0H3", "symbolSize": 121, "symbolStrokeWidth": 3.5, "symbolOffset": 9, "labelOffset": 27, "rowPadding": 6}},
            "detail": {"field": "b", "type": "nominal"},
            "strokeWidth": {"condition": {"test": "datum.b == 'm'", "value": 3.4}, "value": 1.3}
          }
        },
        {
          "data": {"values": [{"t": 0.088, "w": 0.415, "label": "0.75 < z < 1.00"}]},
          "mark": {"type": "text", "align": "right", "baseline": "middle", "font": "Liberation Serif", "fontSize": 32, "color": "#000000"},
          "encoding": {
            "x": {"field": "t", "type": "quantitative", "scale": {"type": "log", "domain": [0.001, 0.1], "nice": false}, "axis": null},
            "y": {"field": "w", "type": "quantitative", "scale": {"type": "log", "domain": [0.01, 1.58], "nice": false}},
            "text": {"field": "label"}
          }
        },
        {
          "data": {"values": [{"t": 0.0016, "w": 0.018, "label": "High sSFR Massive Galaxy"}]},
          "mark": {"type": "text", "align": "left", "baseline": "middle", "font": "Lato", "fontSize": 24.5, "color": "#000000"},
          "encoding": {
            "x": {"field": "t", "type": "quantitative", "scale": {"type": "log", "domain": [0.001, 0.1], "nice": false}, "axis": null},
            "y": {"field": "w", "type": "quantitative", "scale": {"type": "log", "domain": [0.01, 1.58], "nice": false}},
            "text": {"field": "label"}
          }
        },
        {
          "data": {"values": [{"r": 1}]},
          "mark": {"type": "point", "opacity": 0},
          "encoding": {
            "x": {"field": "r", "type": "quantitative", "scale": {"type": "log", "domain": [0.0484, 4.84], "nice": false},
              "axis": {"orient": "top", "values": [0.05,0.06,0.07,0.08,0.09,0.1,0.2,0.3,0.4,0.5,0.6,0.7,0.8,0.9,1,2,3,4], "labelExpr": "datum.value == 0.1 ? '10⁻¹' : datum.value == 1 ? '10⁰' : ''", "tickSize": {"condition": {"test": "datum.value == 0.1 || datum.value == 1", "value": -12}, "value": -7}, "labelPadding": 20, "title": null}}
          }
        }
      ]
    }
  ]
}
